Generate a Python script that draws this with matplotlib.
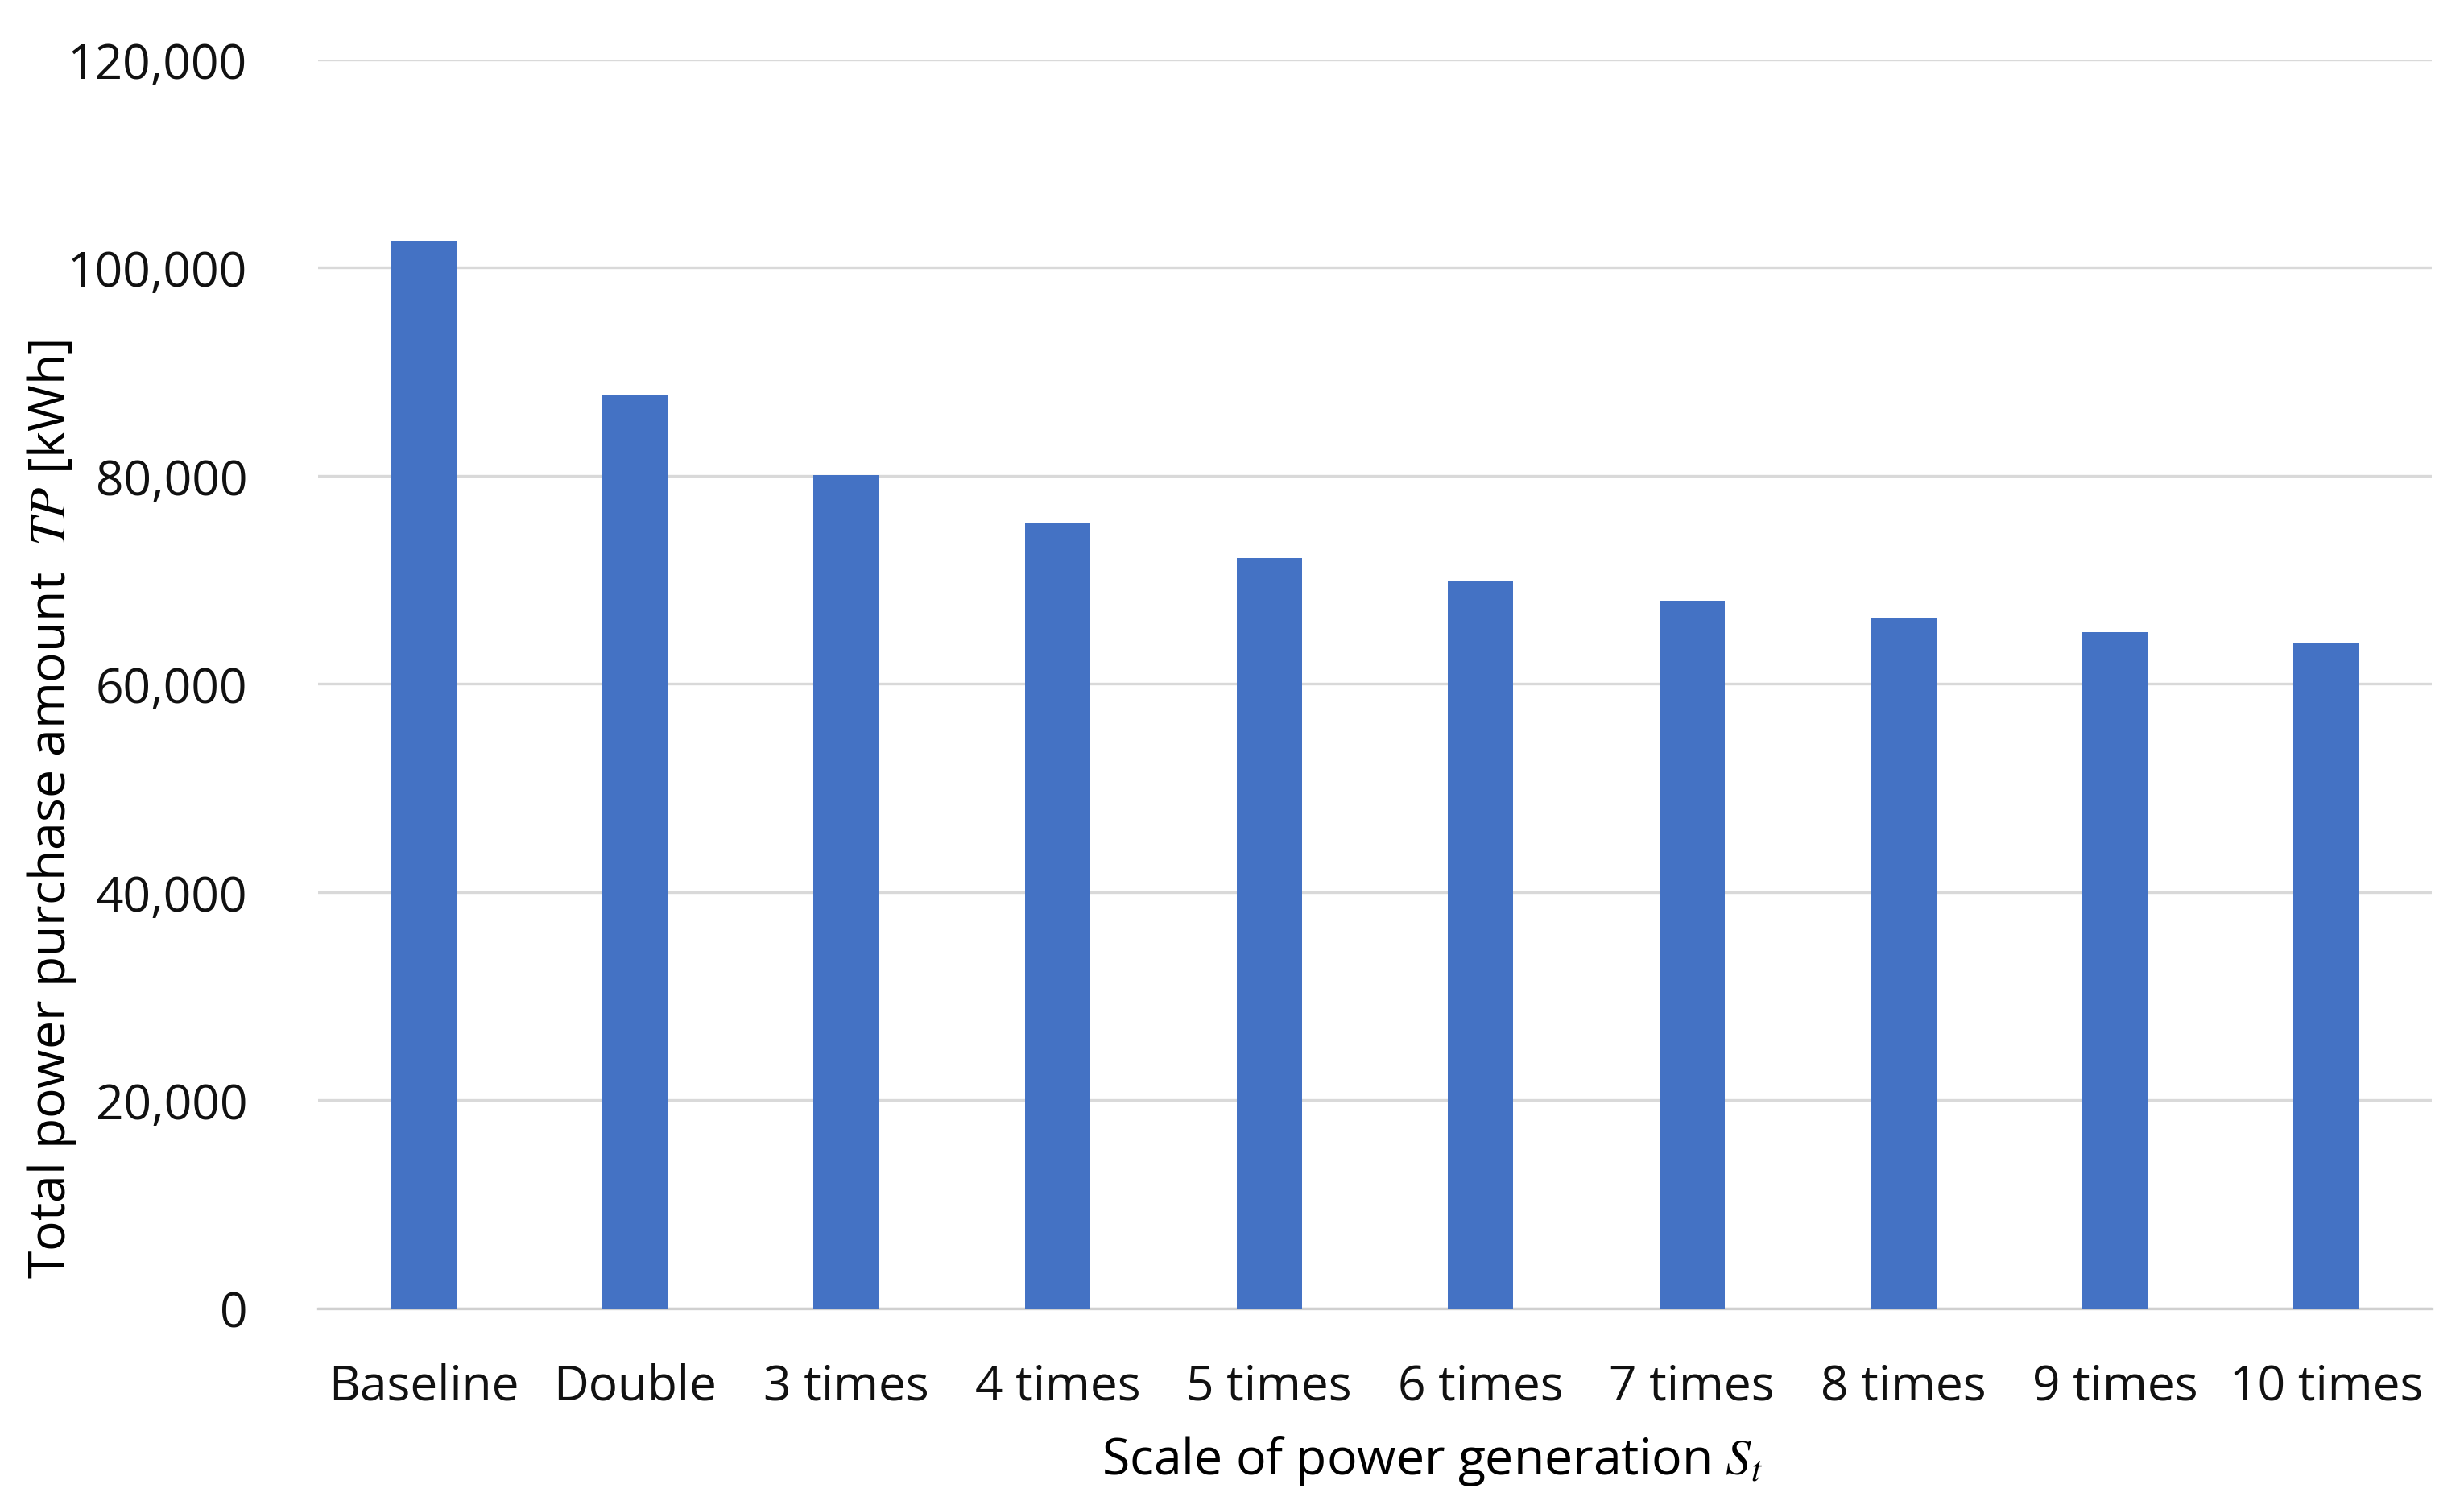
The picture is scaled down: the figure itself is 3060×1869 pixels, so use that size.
import matplotlib
matplotlib.use("Agg")
import matplotlib.pyplot as plt
from matplotlib.ticker import FuncFormatter

plt.rcParams['font.family'] = ['Open Sans', 'DejaVu Sans']
plt.rcParams['mathtext.fontset'] = 'stix'

# data
scales = ['Baseline', 'Double', '3 times', '4 times', '5 times',
          '6 times', '7 times', '8 times', '9 times', '10 times']
purchase_kwh = [102600, 87700, 80100, 75400, 72100,
                69900, 68000, 66400, 65000, 63900]
y_ticks = [0, 20000, 40000, 60000, 80000, 100000, 120000]

fig = plt.figure(figsize=(10.2, 6.2333), dpi=300)
ax = fig.add_axes([0.129, 0.1305, 0.858, 0.8295])

x = range(len(scales))
ax.bar(x, purchase_kwh, width=0.31, color='#4472C4', zorder=3)

ax.set_xlim(-0.5, len(scales) - 0.5)
ax.set_ylim(0, 120000)
ax.set_yticks(y_ticks)
ax.yaxis.set_major_formatter(FuncFormatter(lambda v, p: f"{int(v):,}"))
ax.set_xticks(list(x))
ax.set_xticklabels(scales)

ax.grid(axis='y', color='#d9d9d9', linewidth=0.8, zorder=0)
for s in ['top', 'right', 'left']:
    ax.spines[s].set_visible(False)
ax.spines['bottom'].set_color('#d0d0d0')
ax.spines['bottom'].set_linewidth(0.8)
ax.tick_params(axis='both', length=0, labelsize=14.5, colors='#111111')
ax.tick_params(axis='y', pad=21)
ax.tick_params(axis='x', pad=16)

ax.set_ylabel('Total power purchase amount  $TP$ [kWh]', fontsize=15)
ax.yaxis.set_label_coords(-0.113, 0.40)
ax.set_xlabel('Scale of power generation $S_t$', fontsize=15)
ax.xaxis.set_label_coords(0.527, -0.1)

fig.savefig('out.png', dpi=300)
